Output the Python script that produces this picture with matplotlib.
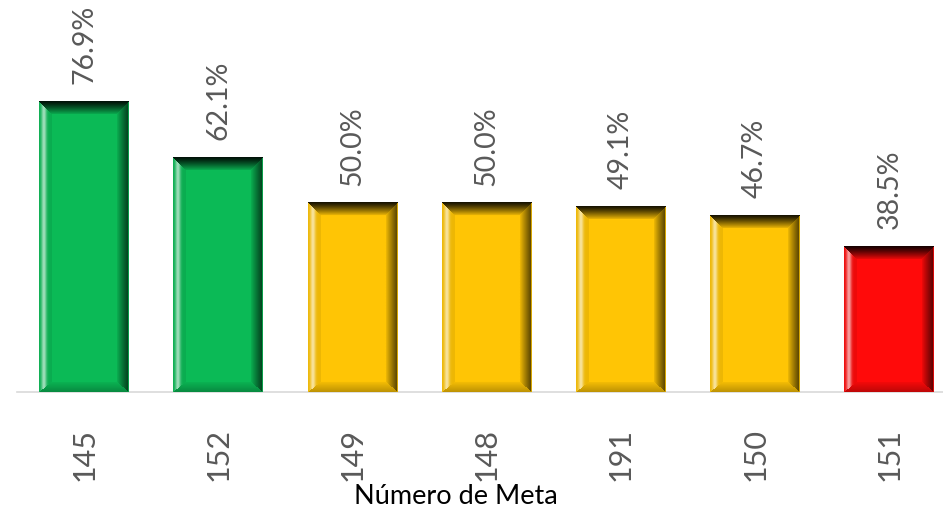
import numpy as np
import matplotlib

matplotlib.use("Agg")
import matplotlib.pyplot as plt
from matplotlib.colors import to_rgb

metas = ["145", "152", "149", "148", "191", "150", "151"]
cumplimiento = [76.9, 62.1, 50.0, 50.0, 49.1, 46.7, 38.5]
colores = ["#0BBA56", "#0BBA56", "#FFC505", "#FFC505", "#FFC505", "#FFC505", "#FF0A0A"]

W, H, DPI = 943, 515, 100
XLIM = (-0.5, 6.4)
YLIM = (0, 103.6)

plt.rcParams["font.family"] = ["Lato", "DejaVu Sans"]

fig = plt.figure(figsize=(W / DPI, H / DPI), dpi=DPI)
ax = fig.add_axes([17 / W, 123 / H, 926 / W, 392 / H])
px_x = 926 / (XLIM[1] - XLIM[0])
px_y = 392 / (YLIM[1] - YLIM[0])


def bevel(face, w_px, h_px, bt=13, bb=10, bl=13, br=12):
    """Imagen RGBA con el biselado de una barra (bordes en pixeles)."""
    face = np.array(to_rgb(face))
    jj, ii = np.meshgrid(np.arange(w_px) + 0.5, np.arange(h_px) + 0.5)
    d = np.stack([ii / bt, (h_px - ii) / bb, jj / bl, (w_px - jj) / br])
    side = d.argmin(axis=0)
    t = np.clip(d.min(axis=0), 0, 1)[..., None]

    top = face * (0.08 + 0.84 * t ** 1.2)
    bottom = face * (0.74 + 0.22 * t)
    light = 0.6 * np.exp(-(((t - 0.38) / 0.2) ** 2))
    left = face * 0.93 + (1 - face * 0.93) * light
    right = face * (0.32 + 0.62 * t ** 1.1)
    right = np.where(t < 0.08, face * 0.85, right)

    rgb = np.choose(side[..., None], [top, bottom, left, right])
    img = np.zeros((h_px, w_px, 4))
    img[..., :3] = np.clip(rgb, 0, 1)
    img[..., 3] = (t[..., 0] < 1).astype(float)
    return img


x = np.arange(len(metas))
bars = ax.bar(x, cumplimiento, width=0.67, color=colores, zorder=2)

for bar, col, v in zip(bars, colores, cumplimiento):
    x0, w, h = bar.get_x(), bar.get_width(), bar.get_height()
    img = bevel(col, int(round(w * px_x)), int(round(h * px_y)))
    ax.imshow(img, extent=(x0, x0 + w, 0, h), origin="upper", aspect="auto",
              interpolation="bilinear", zorder=3)
    ax.text(bar.get_x() + w / 2, v + 17 / px_y, f"{v:.1f}%", rotation=90,
            ha="center", va="bottom", fontsize=20.5, color="#595959")

ax.set_xlim(*XLIM)
ax.set_ylim(*YLIM)
ax.set_xticks(x, metas, rotation=90, fontsize=22, color="#595959")
ax.tick_params(axis="x", length=0, pad=26)
ax.set_yticks([])
for s in ["top", "left", "right"]:
    ax.spines[s].set_visible(False)
ax.spines["bottom"].set_color("#D9D9D9")
ax.spines["bottom"].set_linewidth(1.2)

fig.text(456 / W, 1 - 496 / H, "Número de Meta", ha="center", va="center",
         fontsize=19.5, color="black")

fig.savefig("out.png", dpi=DPI)
